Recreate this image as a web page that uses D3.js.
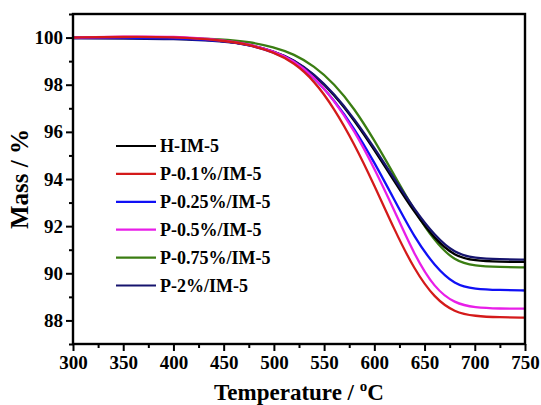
<!DOCTYPE html>
<html>
<head>
<meta charset="utf-8">
<script src="https://cdn.jsdelivr.net/npm/d3@7"></script>
<style>
html,body{margin:0;padding:0;background:#fff;}
svg{display:block;}
text{font-family:"Liberation Serif","Times New Roman",serif;font-weight:bold;fill:#000;}
</style>
</head>
<body>
<svg id="chart" width="541" height="405"></svg>
<script>
const temps = [300, 350, 400, 450, 475, 500, 520, 540, 560, 580, 600, 620, 640, 660, 680, 700, 725, 750];
const seriesNames = ["H-IM-5", "P-0.1%/IM-5", "P-0.25%/IM-5", "P-0.5%/IM-5", "P-0.75%/IM-5", "P-2%/IM-5"];
const seriesColors = ["#000000", "#d41a1a", "#1010f5", "#e81ee8", "#3a7d12", "#16146e"];
const massH = [100.0, 100.0, 99.98, 99.87, 99.71, 99.42, 99.05, 98.43, 97.58, 96.5, 95.24, 93.9, 92.58, 91.46, 90.72, 90.53, 90.49, 90.48];
const massP01 = [100.0, 100.03, 100.03, 99.88, 99.7, 99.38, 98.94, 98.18, 97.0, 95.5, 93.74, 91.84, 90.14, 88.94, 88.34, 88.18, 88.13, 88.12];
const massP025 = [99.99, 99.99, 99.99, 99.865, 99.69, 99.39, 98.99, 98.31, 97.35, 96.15, 94.71, 93.11, 91.51, 90.31, 89.51, 89.33, 89.29, 89.27];
const massP05 = [100.0, 100.04, 100.05, 99.9, 99.72, 99.42, 99.02, 98.34, 97.34, 96.06, 94.46, 92.66, 90.76, 89.36, 88.72, 88.54, 88.5, 88.5];
const massP075 = [100.0, 100.0, 100.0, 99.93, 99.82, 99.6, 99.3, 98.8, 98.05, 97.0, 95.65, 94.15, 92.65, 91.35, 90.51, 90.31, 90.27, 90.25];
const massP2 = [99.97, 99.96, 99.95, 99.85, 99.7, 99.42, 99.06, 98.46, 97.62, 96.56, 95.32, 94.0, 92.7, 91.6, 90.84, 90.64, 90.59, 90.58];
const seriesValues = [massH, massP01, massP025, massP05, massP075, massP2];
const xMajorTicks = [300, 350, 400, 450, 500, 550, 600, 650, 700, 750];
const xMinorTicks = [325, 375, 425, 475, 525, 575, 625, 675, 725];
const yMajorTicks = [88, 90, 92, 94, 96, 98, 100];
const yMinorTicks = [87, 89, 91, 93, 95, 97, 99, 101];

const svg = d3.select("#chart");
const m = {left: 73, top: 14, right: 525, bottom: 344};
const x = d3.scaleLinear().domain([300, 750]).range([m.left, m.right]);
const y = d3.scaleLinear().domain([87, 101]).range([m.bottom, m.top]);

// Axes
const xAxis = svg.append("g").attr("transform", `translate(0,${m.bottom})`)
  .call(d3.axisBottom(x).tickValues(xMajorTicks).tickSize(7).tickSizeOuter(0).tickPadding(5));
svg.append("g").attr("transform", `translate(0,${m.bottom})`)
  .call(d3.axisBottom(x).tickValues(xMinorTicks).tickSize(4).tickSizeOuter(0).tickFormat(""));
const yAxis = svg.append("g").attr("transform", `translate(${m.left},0)`)
  .call(d3.axisLeft(y).tickValues(yMajorTicks).tickSize(7).tickSizeOuter(0).tickPadding(3));
svg.append("g").attr("transform", `translate(${m.left},0)`)
  .call(d3.axisLeft(y).tickValues(yMinorTicks).tickSize(4).tickSizeOuter(0).tickFormat(""));
svg.selectAll(".domain").remove();
svg.selectAll(".tick line").attr("stroke", "#000").attr("stroke-width", 2);
xAxis.selectAll("text").style("font-size", "19px").style("font-family", "Liberation Serif").style("font-weight", "bold");
yAxis.selectAll("text").style("font-size", "19px").style("font-family", "Liberation Serif").style("font-weight", "bold");

// Lines
const line = d3.line().x((d, i) => x(temps[i])).y(d => y(d)).curve(d3.curveBasis);
svg.append("clipPath").attr("id", "clip").append("rect")
  .attr("x", m.left).attr("y", m.top).attr("width", m.right - m.left).attr("height", m.bottom - m.top);
const order = [4, 0, 5, 2, 3, 1];
svg.append("g").attr("clip-path", "url(#clip)").selectAll("path")
  .data(order).join("path")
  .attr("d", i => line(seriesValues[i]))
  .attr("fill", "none").attr("stroke", i => seriesColors[i]).attr("stroke-width", 2.3);

// Frame
svg.append("rect").attr("x", m.left).attr("y", m.top)
  .attr("width", m.right - m.left).attr("height", m.bottom - m.top)
  .attr("fill", "none").attr("stroke", "#000").attr("stroke-width", 2.4);

// Legend
const leg = svg.append("g");
seriesNames.forEach((name, i) => {
  const yy = 146 + i * 27.9;
  leg.append("line").attr("x1", 116).attr("x2", 156).attr("y1", yy).attr("y2", yy)
    .attr("stroke", seriesColors[i]).attr("stroke-width", 2.2);
  leg.append("text").attr("x", 160).attr("y", yy + 6).style("font-size", "18px").text(name);
});

// Axis titles
const xt = svg.append("text").attr("x", (m.left + m.right) / 2).attr("y", 400)
  .attr("text-anchor", "middle").style("font-size", "23px");
xt.append("tspan").text("Temperature / ");
xt.append("tspan").attr("dy", -9).style("font-size", "15px").text("o");
xt.append("tspan").attr("dy", 9).text("C");

svg.append("text").attr("transform", `translate(28,${(m.top + m.bottom) / 2}) rotate(-90)`)
  .attr("text-anchor", "middle").style("font-size", "25px").text("Mass / %");
</script>
</body>
</html>
